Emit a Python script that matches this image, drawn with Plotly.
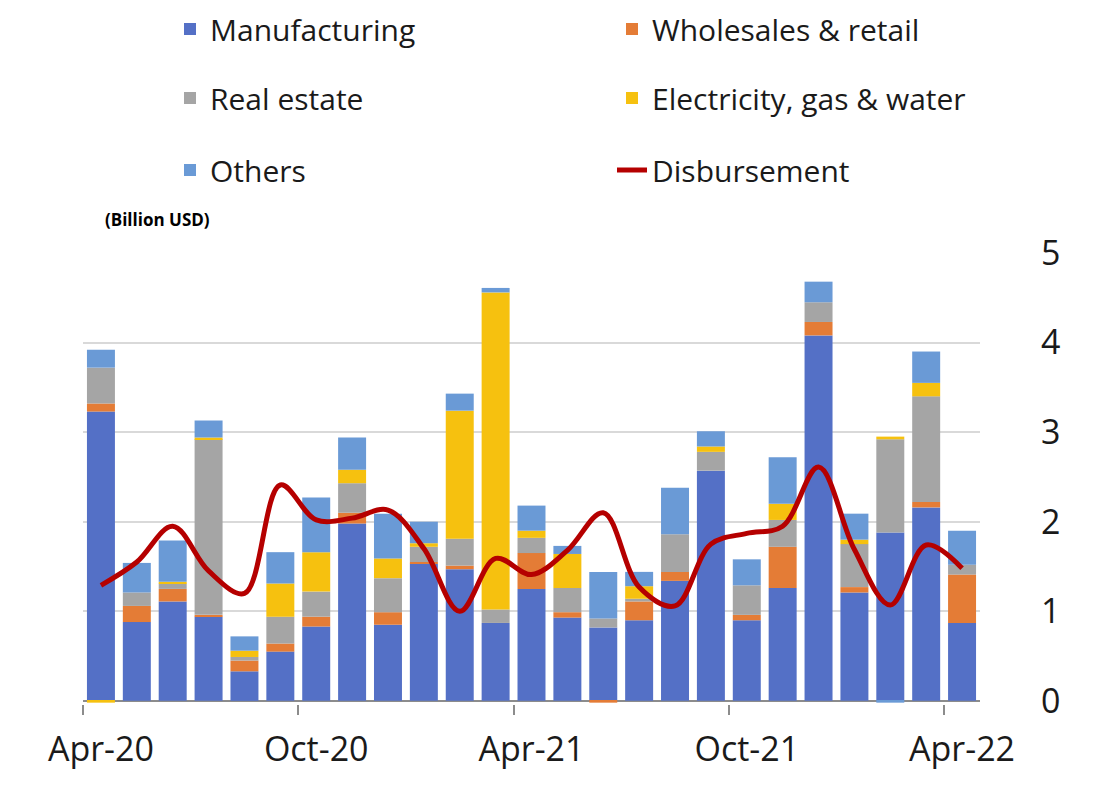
import plotly.graph_objects as go

months = ["Apr-20", "May-20", "Jun-20", "Jul-20", "Aug-20", "Sep-20", "Oct-20", "Nov-20",
          "Dec-20", "Jan-21", "Feb-21", "Mar-21", "Apr-21", "May-21", "Jun-21", "Jul-21",
          "Aug-21", "Sep-21", "Oct-21", "Nov-21", "Dec-21", "Jan-22", "Feb-22", "Mar-22", "Apr-22"]

manufacturing = [3.23, 0.88, 1.11, 0.94, 0.33, 0.55, 0.83, 1.98, 0.85, 1.53, 1.47, 0.87, 1.25,
                 0.93, 0.82, 0.90, 1.34, 2.57, 0.90, 1.26, 4.08, 1.21, 1.88, 2.16, 0.87]
wholesale = [0.09, 0.18, 0.14, 0.02, 0.12, 0.09, 0.11, 0.12, 0.14, 0.02, 0.04, 0.00, 0.40,
             0.06, -0.02, 0.21, 0.10, 0.00, 0.06, 0.46, 0.15, 0.06, 0.00, 0.06, 0.54]
real_estate = [0.40, 0.15, 0.06, 1.96, 0.04, 0.30, 0.28, 0.33, 0.38, 0.17, 0.30, 0.15, 0.17,
               0.27, 0.10, 0.03, 0.42, 0.21, 0.33, 0.30, 0.22, 0.48, 1.04, 1.18, 0.11]
electricity = [-0.02, 0.00, 0.02, 0.02, 0.07, 0.37, 0.44, 0.15, 0.22, 0.04, 1.43, 3.54, 0.08,
               0.38, 0.00, 0.14, 0.00, 0.06, 0.00, 0.18, 0.00, 0.05, 0.03, 0.15, 0.00]
others = [0.20, 0.33, 0.46, 0.19, 0.16, 0.35, 0.61, 0.36, 0.50, 0.24, 0.19, 0.05, 0.28,
          0.09, 0.52, 0.16, 0.52, 0.17, 0.29, 0.52, 0.23, 0.29, -0.02, 0.35, 0.38]
disbursement = [1.29, 1.55, 1.95, 1.45, 1.20, 2.41, 2.02, 2.04, 2.13, 1.70, 1.00, 1.59, 1.41,
                1.68, 2.10, 1.27, 1.06, 1.75, 1.87, 1.95, 2.61, 1.69, 1.07, 1.74, 1.48]

y_ticks = [0, 1, 2, 3, 4, 5]
label_step = 6

FONT = "Open Sans"
TEXT = "#1a1a1a"

series = [
    ("Manufacturing", manufacturing, "#5470C6", "legend"),
    ("Wholesales & retail", wholesale, "#E47C36", "legend2"),
    ("Real estate", real_estate, "#A5A5A5", "legend3"),
    ("Electricity, gas & water", electricity, "#F6C10F", "legend4"),
    ("Others", others, "#6A9AD6", "legend5"),
]

fig = go.Figure()
for name, vals, color, leg in series:
    fig.add_trace(go.Bar(x=months, y=vals, name=name, marker=dict(color=color, line=dict(width=0)),
                         legend=leg, showlegend=True))

idx = list(range(len(months)))
fig.add_trace(go.Scatter(x=idx, y=disbursement, name="Disbursement", mode="lines",
                         line=dict(color="#B50000", width=5, shape="spline", smoothing=1.0),
                         xaxis="x2", legend="legend6", showlegend=True))

W, H = 1101, 770
ML, MR, MT, MB = 75, 129, 245, 74
col_x = [204, 646]
row_y = [21, 90, 162]


def leg(col, row):
    return dict(xref="container", yref="container",
                x=(col_x[col] - 42) / W, y=1 - row_y[row] / H,
                xanchor="left", yanchor="middle", bgcolor="rgba(0,0,0,0)",
                font=dict(family=FONT, size=30, color=TEXT), itemwidth=30, visible=True)


pw, ph = W - ML - MR, H - MT - MB

fig.update_layout(
    width=W, height=H,
    margin=dict(l=ML, r=MR, t=MT, b=MB, autoexpand=False),
    plot_bgcolor="white", paper_bgcolor="white",
    showlegend=True,
    barmode="relative", bargap=0.22,
    font=dict(family=FONT, color=TEXT),
    legend=leg(0, 0), legend2=leg(1, 0), legend3=leg(0, 1),
    legend4=leg(1, 1), legend5=leg(0, 2), legend6=leg(1, 2),
    xaxis=dict(type="category", range=[-0.5, len(months) - 0.5],
               tickmode="array", tickvals=months[::label_step], ticks="", tickangle=0,
               showgrid=False, showline=False, zeroline=False,
               tickfont=dict(family=FONT, size=34, color=TEXT), ticklabelstandoff=22),
    xaxis2=dict(overlaying="x", anchor="y", side="bottom", range=[-0.5, len(months) - 0.5],
                tickmode="array", tickvals=[i - 0.5 for i in range(0, len(months), label_step)],
                ticks="outside", ticklen=10, tickwidth=2, tickcolor="#8c8c8c",
                showticklabels=False, showgrid=False, showline=False, zeroline=False),
    yaxis=dict(side="right", range=[-0.035, 5], tickmode="array", tickvals=y_ticks,
               showgrid=True, gridcolor="#D9D9D9", gridwidth=2,
               zeroline=True, zerolinecolor="#8c8c8c", zerolinewidth=2,
               showline=False, ticks="", ticklabelstandoff=60,
               tickfont=dict(family=FONT, size=34, color=TEXT)),
    annotations=[dict(text="<b>(Billion USD)</b>", xref="paper", yref="paper",
                      x=(95 - ML) / pw, y=(H - MB - 212) / ph, xanchor="left", yanchor="middle",
                      showarrow=False, font=dict(family=FONT, size=17, color="#000000"))],
)

fig.write_html("out.html")
